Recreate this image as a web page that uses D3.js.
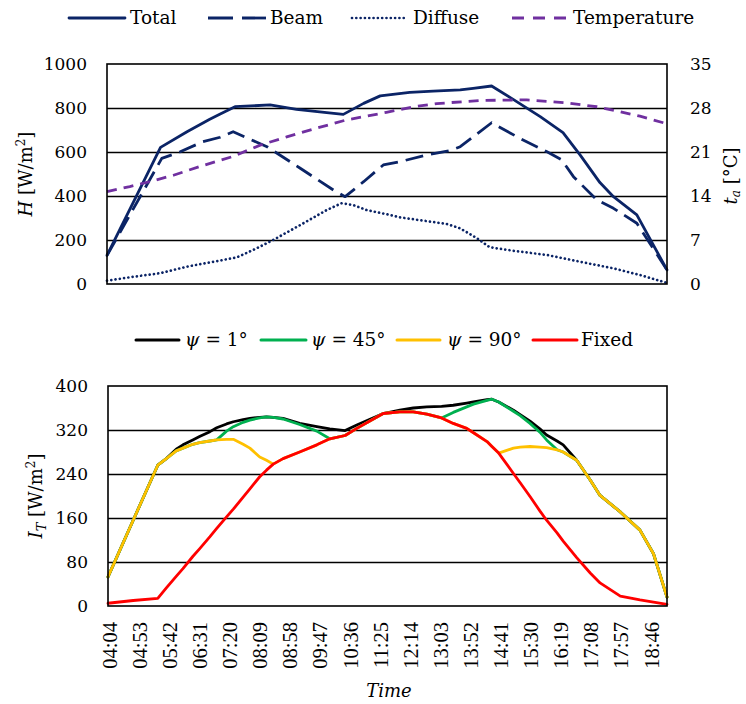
<!DOCTYPE html>
<html>
<head>
<meta charset="utf-8">
<script src="https://cdn.jsdelivr.net/npm/d3@7"></script>
<style>
  body { margin: 0; background: #fff; }
  text { font-family: "DejaVu Serif", "Liberation Serif", serif; fill: #000; }
  text.time-label { font-family: "Liberation Serif", serif; }
</style>
</head>
<body>
<svg id="chart" width="746" height="704"></svg>
<script>
// ---- time axis ----
const timeTicks = ["04:04","04:53","05:42","06:31","07:20","08:09","08:58","09:47","10:36","11:25",
                   "12:14","13:03","13:52","14:41","15:30","16:19","17:08","17:57","18:46"];
const timeDomain = ["04:04", "19:14"];

// ---- upper panel: solar radiation H [W/m2] and ambient temperature ----
const hTicks = [0, 200, 400, 600, 800, 1000];
const taTicks = [0, 7, 14, 21, 28, 35];

const totalTimes  = ["04:04","05:31","06:14","06:51","07:08","07:32","08:29","09:12","10:01","10:28","11:01","11:28",
                     "12:16","12:54","13:38","13:59","14:29","15:04","15:48","16:25","16:53","17:25","17:47","18:25","19:14"];
const totalValues = [130,621,692,749,773,806,814,794,779,771,821,855,
                     871,877,882,889,900,839,761,688,586,461,397,314,64];

const beamTimes  = ["04:04","05:33","06:03","06:40","07:08","07:29","08:24","09:18","10:12","10:31","11:01","11:33",
                    "12:00","12:43","13:21","13:38","14:29","15:15","15:59","16:23","16:42","17:20","17:47","18:25","19:14"];
const beamValues = [130,571,601,647,667,692,624,526,427,397,465,541,
                    556,586,606,624,733,662,601,564,488,382,344,276,64];

const diffuseTimes  = ["04:04","04:47","05:30","06:14","06:57","07:35","08:07","08:34","09:18","10:01","10:25","10:44","11:06",
                       "11:44","12:00","12:38","13:16","13:38","14:05","14:26","15:04","15:59","16:53","17:47","18:30","19:14"];
const diffuseValues = [15,33,49,79,101,121,162,200,268,336,367,359,336,
                       314,303,288,273,253,208,167,151,132,101,71,41,5];

const tempTimes  = ["04:04","04:41","05:14","05:52","06:35","07:29","08:13","08:56","09:45","10:33",
                    "11:38","12:22","13:00","14:10","15:26","16:31","17:20","17:58","18:30","19:10"];
const tempValues = [14.7,15.5,16.3,17.3,18.7,20.3,22.1,23.4,24.8,26.1,
                    27.3,28.2,28.7,29.2,29.3,28.8,28.2,27.4,26.7,25.6];

// ---- lower panel: irradiance on the collector I_T [W/m2] ----
const itTicks = [0, 80, 160, 240, 320, 400];

const irrTimes = ["04:04","04:45","05:25","05:39","05:55","06:06","06:22","06:33","06:50","07:01",
                  "07:17","07:28","07:44","07:55","08:11","08:22","08:33","08:49","09:16","09:44",
                  "10:05","10:30","10:49","11:32","11:59","12:21","12:43","13:07","13:26","13:48",
                  "13:59","14:21","14:29","14:40","15:04","15:15","15:31","15:47","15:58","16:15",
                  "16:25","16:47","17:09","17:25","17:58","18:30","18:52","19:14"];
const psi1Values  = [53,156,256,268,285,293,302,308,317,324,
                     331,335,339,341,343,344,343,341,332,326,
                     322,319,329,350,356,360,362,363,365,369,
                     371,375,376,371,356,348,336,322,311,300,
                     293,265,229,201,171,138,95,16];
const psi45Values = [53,156,256,268,282,287,294,297,300,302,
                     318,326,334,338,342,344,343,340,330,318,
                     304,310,323,350,353,353,349,342,352,362,
                     367,374,376,371,354,346,332,316,302,284,
                     280,265,229,201,171,138,95,16];
const psi90Values = [53,156,256,268,282,287,294,297,300,302,
                     303,303,294,287,271,265,258,268,280,293,
                     304,310,323,350,353,353,349,342,332,323,
                     315,299,290,278,287,289,290,289,288,284,
                     280,265,229,201,171,138,95,16];
const fixedValues = [5,10,14,33,54,68,90,104,126,141,
                     162,176,198,213,235,247,258,268,280,293,
                     304,310,323,350,353,353,349,342,332,323,
                     315,299,290,278,241,224,199,173,156,133,
                     118,88,60,42,18,11,7,3];

// ---- helpers ----
const toMin = s => +s.slice(0, 2) * 60 + +s.slice(3, 5);
const svg = d3.select("#chart");

const NAVY = "#0b2466", PURPLE = "#7030a0";

function panel(box, yDomain, yTicks) {
  const x = d3.scaleLinear().domain(timeDomain.map(toMin)).range([box.left, box.right]);
  const y = d3.scaleLinear().domain(yDomain).range([box.bottom, box.top]);
  const g = svg.append("g");
  // horizontal gridlines
  g.append("g").selectAll("line").data(yTicks.slice(1, -1)).join("line")
    .attr("x1", box.left).attr("x2", box.right)
    .attr("y1", d => Math.round(y(d)) + 0.5).attr("y2", d => Math.round(y(d)) + 0.5)
    .attr("stroke", "#000").attr("stroke-width", 1.3);
  // left axis labels
  const ax = d3.axisLeft(y).tickValues(yTicks).tickFormat(d3.format("d")).tickSize(0).tickPadding(20);
  const ga = g.append("g").attr("transform", `translate(${box.left},0)`).call(ax);
  ga.select(".domain").remove();
  ga.selectAll("text").attr("font-size", 17).attr("font-family", null).attr("fill", "#000");
  return { x, y, g };
}

function frame(box) {
  svg.append("rect").attr("x", box.left).attr("y", box.top)
    .attr("width", box.right - box.left).attr("height", box.bottom - box.top)
    .attr("fill", "none").attr("stroke", "#000").attr("stroke-width", 1.6);
}

function drawSeries(p, yScale, times, values, style) {
  const pts = times.map((t, i) => [toMin(t), values[i]]);
  const line = d3.line().x(d => p.x(d[0])).y(d => yScale(d[1]));
  const path = svg.append("path").datum(pts).attr("d", line)
    .attr("fill", "none").attr("stroke", style.color).attr("stroke-width", style.width)
    .attr("stroke-linejoin", "round").attr("stroke-linecap", style.cap || "butt");
  if (style.dash) path.attr("stroke-dasharray", style.dash);
}

// ===== upper panel =====
const upperBox = { left: 107, right: 667, top: 64, bottom: 284 };
const upper = panel(upperBox, [0, 1000], hTicks);
const yTemp = d3.scaleLinear().domain([0, 35]).range([upperBox.bottom, upperBox.top]);

const upperStyles = {
  total:   { color: NAVY, width: 2.8, cap: "round" },
  beam:    { color: NAVY, width: 2.8, dash: "18,8" },
  diffuse: { color: NAVY, width: 2.7, dash: "0.01,4.3", cap: "round" },
  temp:    { color: PURPLE, width: 2.8, dash: "10,7" }
};

drawSeries(upper, upper.y, totalTimes, totalValues, upperStyles.total);
drawSeries(upper, upper.y, beamTimes, beamValues, upperStyles.beam);
drawSeries(upper, upper.y, diffuseTimes, diffuseValues, upperStyles.diffuse);
drawSeries(upper, yTemp, tempTimes, tempValues, upperStyles.temp);
frame(upperBox);

// right axis (temperature)
const ar = d3.axisRight(yTemp).tickValues(taTicks).tickSize(0).tickPadding(23);
const gar = svg.append("g").attr("transform", `translate(${upperBox.right},0)`).call(ar);
gar.select(".domain").remove();
gar.selectAll("text").attr("font-size", 17).attr("font-family", null).attr("fill", "#000");

// axis titles
const hTitle = svg.append("text").attr("font-size", 18).attr("text-anchor", "middle")
  .attr("transform", `translate(32,${(upperBox.top + upperBox.bottom) / 2}) rotate(-90)`);
hTitle.append("tspan").attr("font-style", "italic").text("H");
hTitle.append("tspan").text(" [W/m");
hTitle.append("tspan").attr("font-size", 12).attr("dy", -7).text("2");
hTitle.append("tspan").attr("dy", 7).text("]");

const taTitle = svg.append("text").attr("font-size", 18).attr("text-anchor", "middle")
  .attr("transform", `translate(737,${(upperBox.top + upperBox.bottom) / 2 + 2}) rotate(-90)`);
taTitle.append("tspan").attr("font-style", "italic").text("t");
taTitle.append("tspan").attr("font-style", "italic").attr("font-size", 12).attr("dy", 3).text("a");
taTitle.append("tspan").attr("dy", -3).text(" [°C]");

// upper legend
const upperLegend = [
  { label: "Total", style: upperStyles.total, x0: 69, x1: 125, tx: 130 },
  { label: "Beam", style: upperStyles.beam, x0: 208, x1: 266, tx: 270, dash: "25,9" },
  { label: "Diffuse", style: upperStyles.diffuse, x0: 352, x1: 405, tx: 413 },
  { label: "Temperature", style: upperStyles.temp, x0: 512, x1: 569, tx: 573, dash: "12,9" }
];
upperLegend.forEach(d => {
  const l = svg.append("line").attr("x1", d.x0).attr("x2", d.x1).attr("y1", 18).attr("y2", 18)
    .attr("stroke", d.style.color).attr("stroke-width", d.style.width)
    .attr("stroke-linecap", d.style.cap || "butt");
  if (d.style.dash) l.attr("stroke-dasharray", d.dash || d.style.dash);
  svg.append("text").attr("x", d.tx).attr("y", 24).attr("font-size", 18.5).text(d.label);
});

// ===== lower panel =====
const lowerBox = { left: 108, right: 667, top: 386, bottom: 606 };
const lower = panel(lowerBox, [0, 400], itTicks);

const lowerSeries = [
  { label: "1°",  values: psi1Values,  color: "#000000" },
  { label: "45°", values: psi45Values, color: "#00b050" },
  { label: "90°", values: psi90Values, color: "#ffc000" },
  { label: "Fixed", values: fixedValues, color: "#ff0000" }
];
lowerSeries.forEach(s => drawSeries(lower, lower.y, irrTimes, s.values, { color: s.color, width: 2.8, cap: "round" }));
frame(lowerBox);

// x tick labels
svg.append("g").selectAll("text").data(timeTicks).join("text")
  .attr("class", "time-label").attr("font-size", 20.5)
  .attr("text-anchor", "end").attr("dy", "0.33em")
  .attr("transform", d => `translate(${lower.x(toMin(d)) + 2},622) rotate(-90)`)
  .text(d => d);

svg.append("text").attr("x", 389).attr("y", 697).attr("font-size", 18)
  .attr("font-style", "italic").attr("text-anchor", "middle").text("Time");

const itTitle = svg.append("text").attr("font-size", 18).attr("text-anchor", "middle")
  .attr("transform", `translate(42,${(lowerBox.top + lowerBox.bottom) / 2}) rotate(-90)`);
itTitle.append("tspan").attr("font-style", "italic").text("I");
itTitle.append("tspan").attr("font-style", "italic").attr("font-size", 13).attr("dy", 4).text("T");
itTitle.append("tspan").attr("dy", -4).text(" [W/m");
itTitle.append("tspan").attr("font-size", 12).attr("dy", -7).text("2");
itTitle.append("tspan").attr("dy", 7).text("]");

// lower legend
const lowerLegendPos = [
  { x0: 136, x1: 179, tx: 185 },
  { x0: 261, x1: 306, tx: 311 },
  { x0: 397, x1: 440, tx: 447 },
  { x0: 533, x1: 577, tx: 581 }
];
lowerSeries.forEach((s, i) => {
  const p = lowerLegendPos[i];
  svg.append("line").attr("x1", p.x0).attr("x2", p.x1).attr("y1", 340).attr("y2", 340)
    .attr("stroke", s.color).attr("stroke-width", 3).attr("stroke-linecap", "round");
  const t = svg.append("text").attr("x", p.tx).attr("y", 346).attr("font-size", 18.5);
  if (s.label === "Fixed") {
    t.text("Fixed");
  } else {
    t.append("tspan").attr("font-style", "italic").text("ψ");
    t.append("tspan").text(" = " + s.label);
  }
});
</script>
</body>
</html>
